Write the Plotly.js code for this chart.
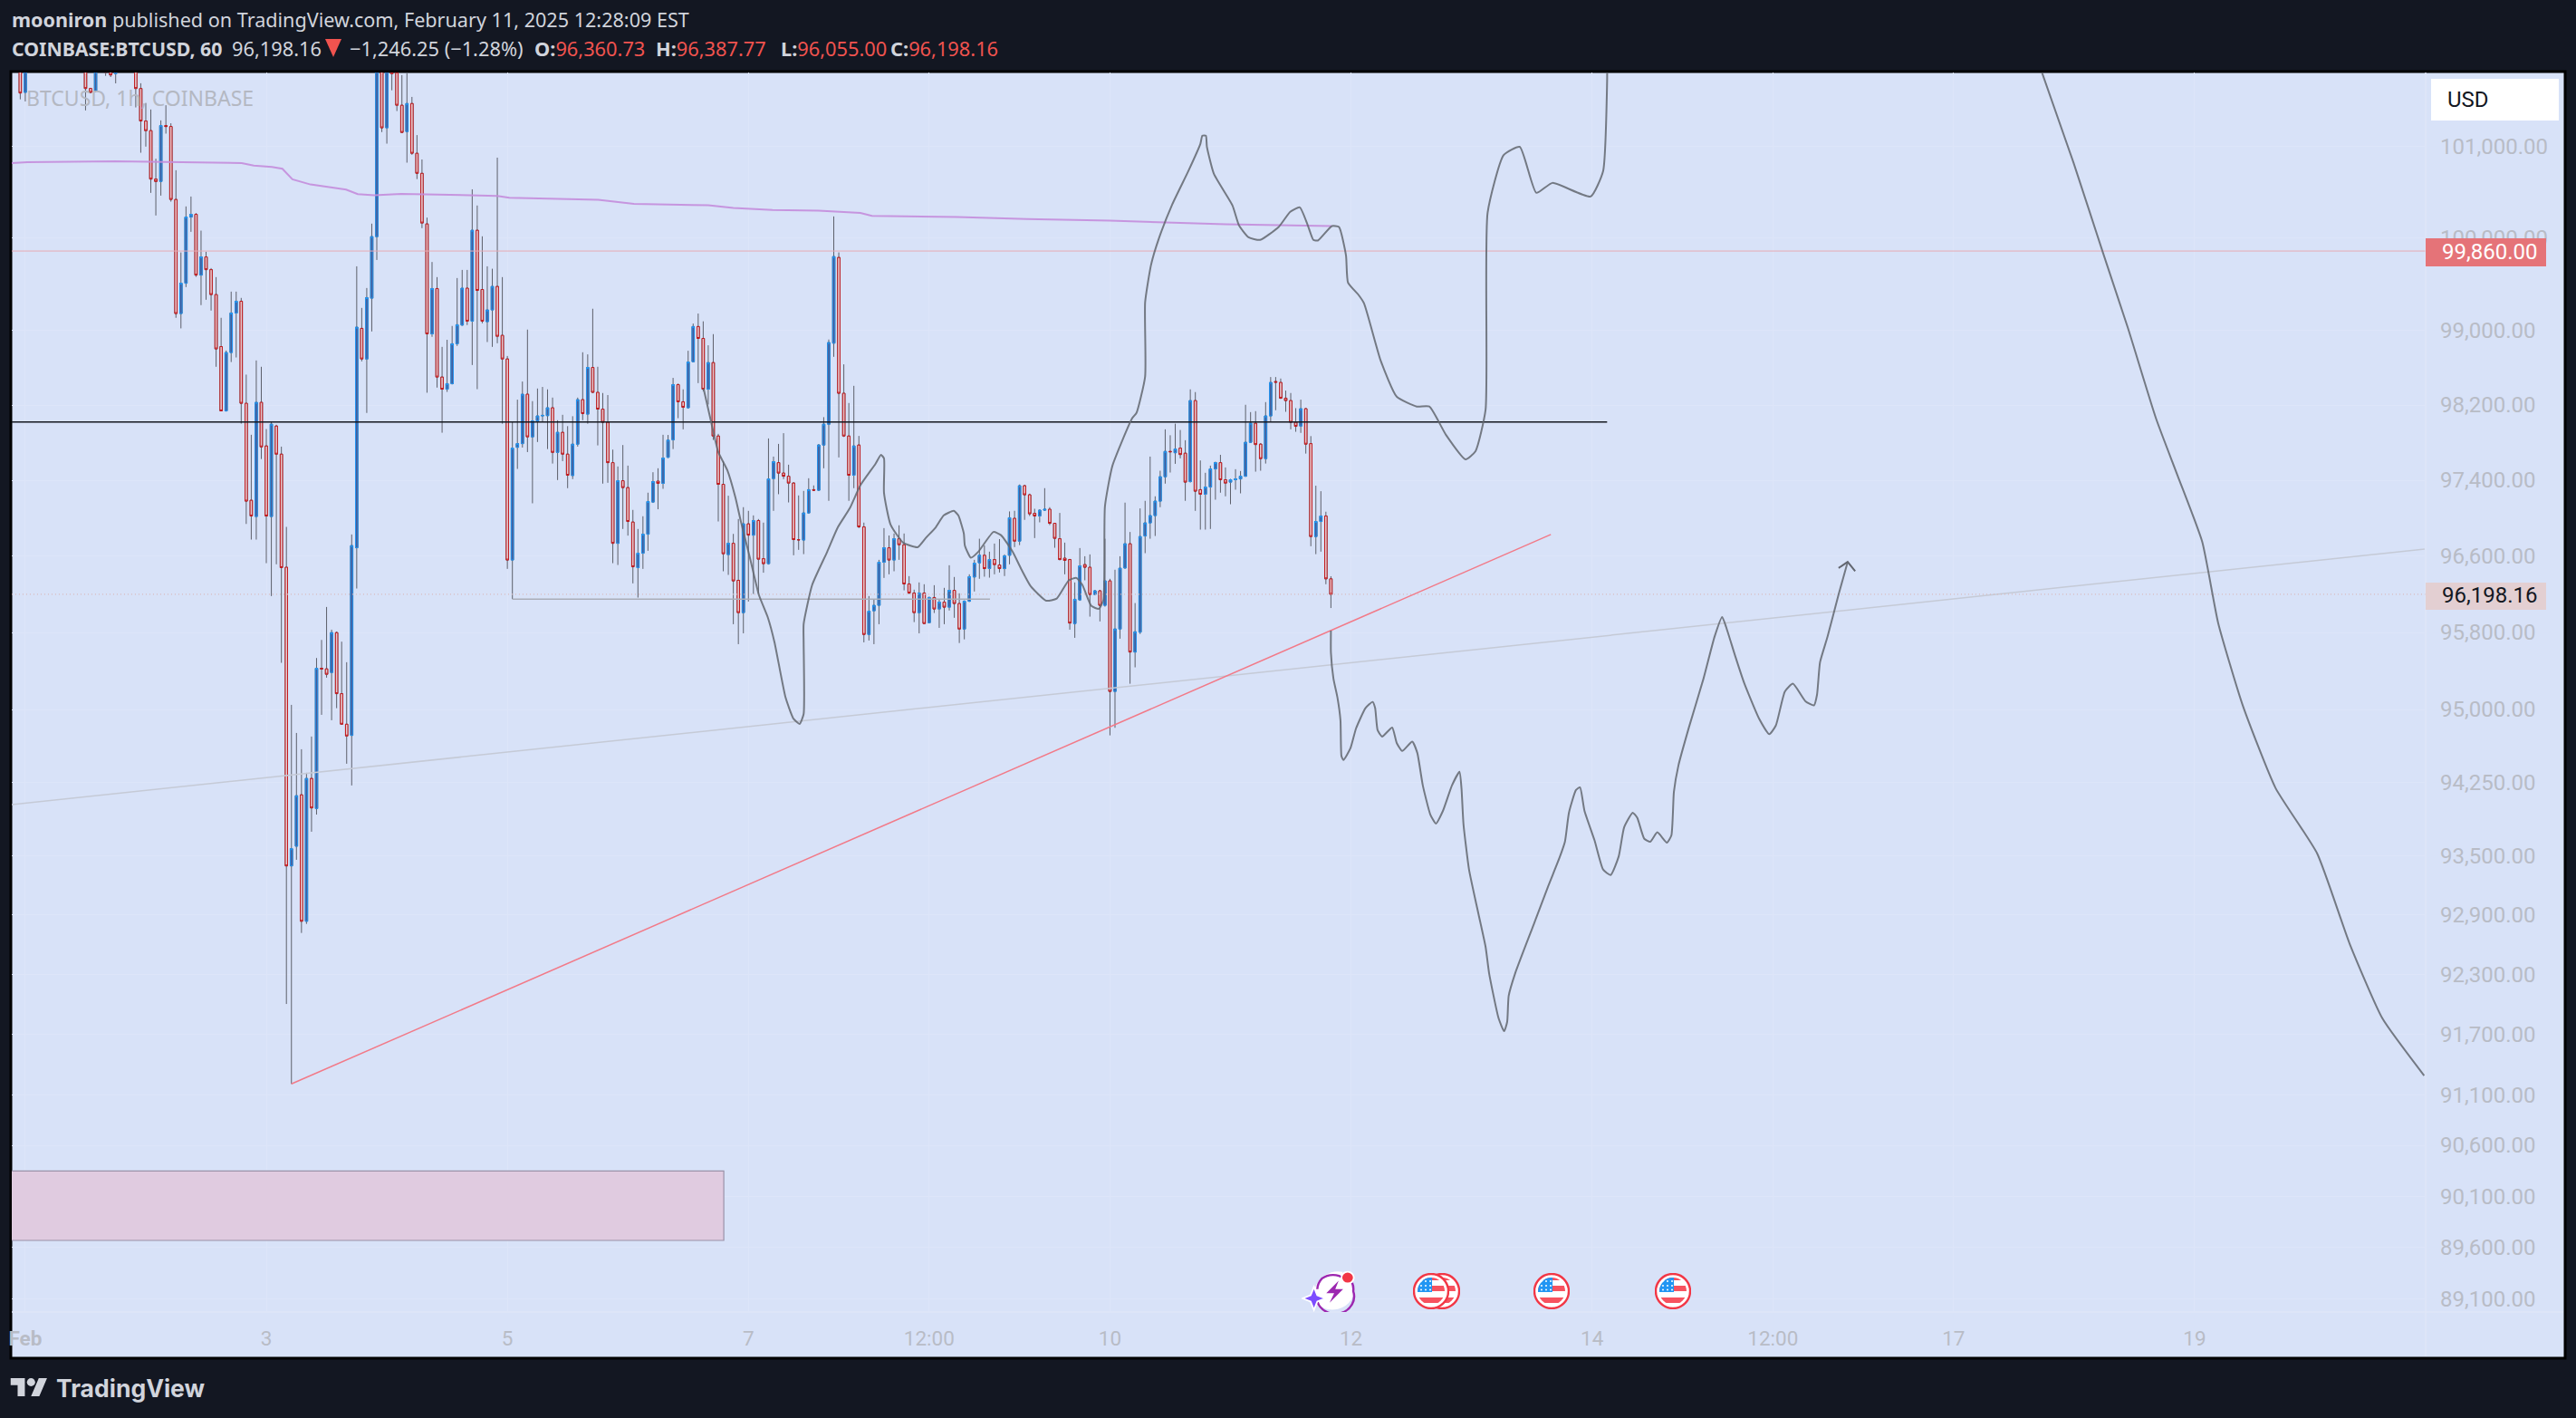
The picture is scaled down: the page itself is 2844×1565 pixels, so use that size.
<!DOCTYPE html>
<html><head><meta charset="utf-8">
<script src="https://cdn.plot.ly/plotly-3.0.1.min.js"></script>
<style>html,body{margin:0;padding:0;background:#131722;overflow:hidden}#c{width:2844px;height:1565px}</style>
</head><body><div id="c"></div>
<script>
// Hourly candles, first one 49 h before Feb 3 00:00
const firstHour=-49;
const opens=[
102400,101599,102350,102500,102400,102300,102450,102650,102500,102350,
102250,102400,102150,102100,101642,101616,102000,102100,101950,101806,
101950,102050,102000,101950,101642,101283,101177,100645,100619,101233,
101223,100422,99183,99511,100230,100260,99599,99796,99658,99388,
98827,98138,98763,99189,99316,98219,97188,97016,98229,97764,
97016,97976,97677,96482,93397,93597,94122,92836,94290,93982,
95427,95421,95384,95798,95164,94848,94733,96687,99023,98694,
99349,100017,102150,101208,102200,101816,101457,101167,101476,100928,
100708,100155,98964,99453,98500,98370,98429,98857,99059,99457,
99101,100086,99443,99095,99222,99476,98948,98694,96558,97750,
97789,98316,97861,98031,98084,98087,98171,97696,97909,97677,
97450,97783,98258,98103,98603,98336,98157,98016,97587,96734,
97395,97322,96958,96478,96630,96830,97169,97390,97367,97644,
97830,98419,98235,98171,98665,99043,98915,98370,98655,97870,
97357,96615,96734,96345,96007,96939,96820,96974,96572,96520,
97418,97587,97476,97443,97370,96773,96768,97054,97300,97294,
97774,97996,98864,99790,98326,97870,97453,97774,96907,95779,
96026,96083,96535,96687,96558,96782,96719,96307,96212,96007,
96212,95902,96165,96045,96117,96064,96240,96102,95836,96126,
96380,96529,96608,96468,96563,96506,96468,96608,96997,96757,
97342,97246,97050,97022,97083,97093,96945,96782,96577,96563,
95893,96140,96510,96482,96197,96235,96083,96339,95187,95836,
96475,96729,95596,95803,96811,96949,97026,97179,97437,97706,
97692,97741,97687,97386,98248,97300,97252,97328,97520,97587,
97405,97380,97405,97414,97443,97803,98006,97783,97629,98084,
98452,98442,98274,98248,98016,97977,98161,97789,96805,96964,97022,96360.73];
const highs=[
102600,102600,102700,102800,102750,102600,102800,102900,102700,102600,
102500,102600,102400,102300,101650,102150,102300,102250,102050,102100,
102200,102250,102200,102100,101700,101482,101410,100868,101290,101457,
101258,100742,99845,100346,100454,100274,100082,99852,99675,99577,
99137,98785,99420,99420,99352,98526,97883,98678,98610,97944,
98022,97990,97757,96907,95048,94758,94590,94348,94721,95534,
95722,96066,95829,95810,95704,95490,96827,99694,99244,99459,
100158,102400,102300,102500,102400,102000,101790,101810,101549,101128,
100860,100224,99741,99577,98824,98900,99049,99567,99655,99655,
100533,100356,100020,99694,99668,100880,99577,98726,98022,98258,
98452,99010,98242,98377,98394,98368,98280,98038,98096,97975,
98081,98280,98766,98743,99235,98610,98329,98307,97725,97546,
97774,97555,97086,96885,97019,97268,97485,97527,97883,97881,
98491,98430,98368,98782,99075,99183,99099,98841,98961,97893,
97603,97236,96833,96990,97115,97076,97028,96990,96952,97844,
97651,97786,97900,97565,97380,97239,97287,97421,97345,97785,
98071,98903,100237,99845,98636,98222,98406,97871,96952,96180,
96143,96560,96894,96816,96837,96924,96837,96389,96247,96323,
96304,96175,96294,96143,96266,96503,96380,96209,96135,96408,
96560,96782,96712,96646,96731,96778,96617,97070,97077,97355,
97352,97258,97098,97092,97316,97115,96950,97054,96741,96570,
96323,96684,96598,96617,96245,96245,96782,96361,96456,96598,
97163,96853,96107,97102,97182,97651,97230,97501,97941,97878,
98001,97934,97825,98368,98339,97610,97479,97555,97597,97670,
97536,97415,97517,97498,98203,98125,98135,97795,98232,98500,
98500,98484,98355,98329,98167,98258,98170,97869,97342,97284,97067,96387.77];
const lows=[
101522,101499,102100,102300,102200,102100,102300,102400,102300,102100,
102000,102100,101820,101400,101589,101599,101900,101782,101769,101699,
101880,101900,101870,101433,100934,101001,100494,100247,100464,101144,
100398,99137,99023,99469,100069,99580,99274,99332,99215,98610,
98135,98130,98661,98710,98002,96938,96773,96773,97625,96525,
96180,96513,95484,92004,91207,93459,92718,92809,93745,93920,
94945,95330,94889,95014,94842,94441,94218,96259,98668,98116,
98990,99763,101161,101034,101622,101393,101150,100825,100911,100645,
100109,98332,98932,98387,97905,98341,98420,98834,99050,99059,
98629,98370,99078,98876,98824,98863,98001,96465,96149,97520,
97747,97699,97156,97806,98022,97731,97577,97402,97603,97316,
97412,97757,98038,98001,98330,97770,97364,97373,96525,96506,
96885,96815,96313,96164,96465,96655,97160,97093,97309,97635,
97731,98060,97941,98165,98660,98435,98348,98206,97828,96964,
96440,96402,95886,95678,95791,96123,96202,96202,96425,96510,
97076,97252,97412,97165,96608,96665,96620,97045,97290,97285,
97527,97182,98717,97642,97860,97182,97316,96894,95697,95716,
95678,95886,96370,96408,96440,96560,96240,96200,95908,95791,
95885,95895,96003,95848,95886,96029,95953,95690,95728,96118,
96228,96361,96383,96373,96408,96427,96390,96513,96694,96715,
96981,97022,96789,96955,97075,96926,96687,96555,96408,95829,
95744,96130,96345,95965,96190,95915,96069,94733,94811,95735,
96465,95267,95437,95784,96630,96782,96811,97115,97364,97482,
97574,97632,97182,97375,97076,96878,96878,96885,97194,97268,
97230,97146,97300,97261,97435,97795,97491,97501,97577,98022,
98145,98265,98128,97941,97915,97903,97683,96703,96620,96646,96304,96055];
const closes=[
101592,102350,102500,102400,102300,102450,102650,102500,102350,102250,
102400,102150,102000,101642,101599,102000,102100,101822,101792,101950,
102050,102000,101950,101642,101283,101177,100645,100619,101233,101223,
100422,99183,99511,100230,100260,99599,99796,99658,99388,98802,
98138,98763,99189,99316,98219,97179,97022,98229,97754,97022,
97996,97677,96478,93397,93572,94113,92836,94290,93988,95427,
95421,95365,95798,95164,94848,94727,96710,99036,98694,99355,
100017,102150,101208,102300,101806,101457,101157,101476,100928,100708,
100165,98964,99453,98500,98370,98429,98857,99062,99457,99101,
100086,99433,99101,99222,99476,98938,98694,96558,97741,97789,
98316,97861,98031,98084,98090,98171,97696,97909,97677,97453,
97783,98258,98109,98603,98336,98157,98016,97587,96734,97395,
97322,96964,96487,96630,96830,97175,97386,97367,97635,97826,
98419,98235,98177,98661,99043,98915,98370,98655,97870,97357,
96624,96734,96339,96007,96939,96820,96974,96567,96520,97414,
97597,97476,97443,97370,96773,96770,97054,97300,97294,97774,
97996,98871,99800,98326,97870,97453,97764,96907,95779,96022,
96083,96535,96687,96558,96782,96719,96307,96212,96007,96212,
95893,96165,96045,96117,96064,96240,96102,95836,96126,96383,
96525,96608,96468,96563,96510,96468,96601,97003,96757,97342,
97246,97045,97022,97083,97093,96945,96786,96563,96554,95898,
96146,96497,96482,96197,96235,96083,96339,95187,95836,96472,
96729,95596,95807,96805,96949,97026,97179,97437,97706,97702,
97731,97673,97380,98248,97284,97252,97328,97520,97587,97405,
97370,97405,97414,97443,97803,98006,97779,97629,98084,98442,
98445,98274,98248,98016,97973,98161,97783,96805,96964,97022,96360.73,96198.16];

// 200-period moving average
const maHours=[-50.7,-47.6,-30.1,-15.2,-4.9,-2.5,1.1,3.2,5.2,8.8,15.9,18.2,21.5,26.9,33,39,46,48.4,66.1,73.2,88,93,100.8,110,118.3,120.6,137.6,151.5,168,179.1,191,212.1];
const maPrices=[100821,100831,100841,100831,100821,100794,100778,100758,100642,100586,100530,100481,100467,100484,100477,100471,100461,100441,100418,100375,100358,100329,100306,100299,100274,100244,100230,100208,100191,100171,100152,100132];

// Hand-drawn projection lines
const brushAHours=[87.07,88.57,90,91.8,93.4,94.5,96.3,98.1,99.9,101.2,103.4,105,106.2,107,107,107,108.7,111.7,113.8,116.2,118.3,121.3,122.4,123,123,124.3,126.8,129.7,131.3,133.3,134.9,136.9,137.8,138.9,139.1,140.3,141.8,144.8,146.3,148.6,150.4,152.2,155.3,157.4,159.8,161.3,162.5,164.3,165.8,166.7,167,168.5,172.4,173.3,175,175,176.2,177.7,180.4,183.6,186,186.4,187.1,187.3,188.7,192.4,193.7,195.6,197.9,201.6,203.9,205.8,207.4,208.5,209.4,212.2,213.6,215,215.4,217.5,218.6,221.9,225.1,229.1,231.6,234.9,238.8,240.8,242.8,243.2,246.4,249.6,252.9,256.1,263.7,266.2,267,267];
const brushAPrices=[98377,98022,97699,97507,97220,96964,96582,96190,95952,95697,95124,94903,94851,94954,95697,95886,96297,96646,96902,97105,97347,97574,97670,97632,97268,96933,96741,96693,96789,96902,97028,97076,97028,96837,96712,96582,96646,96853,96820,96646,96456,96285,96132,96154,96345,96370,96297,96076,96047,96142,97124,97555,98058,98119,98506,99303,99714,99990,100368,100732,101031,101121,101121,101001,100702,100356,100139,100010,99981,100122,100287,100336,100139,99981,99974,100132,100122,99813,99518,99384,99293,98678,98290,98184,98184,97883,97622,97709,98150,100277,100909,100999,100494,100603,100454,100731,101720,102000];
const brushBHours=[212,212,212.5,213.3,213.9,214.1,214.5,215.9,217,218.9,220.3,220.8,221.3,222.2,224.2,225.1,226.2,228.2,229.2,230.3,231.8,232.9,234.3,236.1,237.6,238,238.4,239.5,241,242.8,243.5,245.4,246.5,247.1,247.4,248.7,252.4,255.3,257.5,258.6,259.4,260.8,261.6,262.5,264.5,266.2,267.7,269.3,270.4,272.1,273,274.4,275.6,277,278.9,279.8,280.3,281.2,283.3,286.2,288.4,289.9,290.7,292.5,294.3,297.3,299.3,300.6,302.4,304,306.5,308.2,308.8,309.4,310.9,313.1,314.9];
const brushBPrices=[95819,95590,95321,95124,94889,94519,94479,94602,94804,95016,95079,95016,94786,94721,94814,94655,94572,94669,94553,94218,93920,93828,93957,94218,94358,94190,93821,93360,92998,92578,92313,91859,91732,91826,92085,92313,92806,93195,93477,93643,93939,94171,94199,93957,93656,93360,93304,93492,93791,93939,93887,93673,93643,93739,93634,93708,94153,94423,94817,95321,95757,95962,95857,95556,95274,94902,94745,94834,95186,95267,95086,95043,95153,95490,95757,96198,96538];
const arrowHours=[313.1,314.9,316.4];
const arrowPrices=[96474,96538,96440];
const brushCHours=[352.9,359.9,365.8,370.7,376.3,380.6,385.5,388.7,393.6,400.1,408.4,414.9,421.4,429.7];
const brushCPrices=[101930,100821,99832,99029,98058,97450,96751,95895,95039,94193,93523,92605,91859,91290];

// Level and trend lines: [start hour, end hour], [start price, end price]
const supportHours=[-50.7,267], supportPrices=[98020,98020];
const resistHours=[-50.7,429.9], resistPrices=[99860,99860];
const lastHours=[-50.7,429.9], lastPrices=[96198.16,96198.16];
const longTrendHours=[-50.7,429.8], longTrendPrices=[94022,96674];
const redTrendHours=[5,255.8], redTrendPrices=[91207,96827];
const flatHours=[49,144.1], flatPrices=[96149,96149];
const zoneHours=[-51,91.1,91.1,-51,-51], zonePrices=[90347,90347,89667,89667,90347];

const yTicks=[101000,100000,99000,98200,97400,96600,95800,95000,94250,93500,92900,92300,91700,91100,90600,90100,89600,89100];
const yTickText=['101,000.00','100,000.00','99,000.00','98,200.00','97,400.00','96,600.00','95,800.00','95,000.00','94,250.00','93,500.00','92,900.00','92,300.00','91,700.00','91,100.00','90,600.00','90,100.00','89,600.00','89,100.00'];
const xTickDates=['2025-02-01','2025-02-03','2025-02-05','2025-02-07','2025-02-08 12:00','2025-02-10','2025-02-12','2025-02-14','2025-02-15 12:00','2025-02-17','2025-02-19'];
const xTickText=['<b>Feb</b>','3','5','7','12:00','10','12','14','12:00','17','19'];

const T0=Date.UTC(2025,1,3);
const tm=h=>T0+h*3600000;
const times=opens.map((_,i)=>tm(firstHour+i));
const L=13,R=2678,TOP=80,BOT=1448;
const fx=x=>(x-L)/(R-L), fy=y=>(BOT-y)/(BOT-TOP);
const line=(hs,ps,color,width,extra)=>({type:'scatter',mode:'lines',x:hs.map(tm),y:ps,hoverinfo:'skip',showlegend:false,line:Object.assign({color:color,width:width},extra||{})});
const brush=(hs,ps)=>{const t=line(hs,ps,'#62666f',2,{shape:'spline',smoothing:0.5});t.opacity=0.85;return t;};

const zone=line(zoneHours,zonePrices,'#9a92a8',1.2);zone.fill='toself';zone.fillcolor='#e0cbe0';

const wickColor='#5d606b';
const wicks={type:'candlestick',x:times,open:opens,high:highs,low:lows,close:closes,hoverinfo:'skip',showlegend:false,
  increasing:{line:{color:wickColor,width:1},fillcolor:wickColor},decreasing:{line:{color:wickColor,width:1},fillcolor:wickColor}};
const bodies={type:'candlestick',x:times,open:opens,close:closes,
  high:opens.map((o,i)=>Math.max(o,closes[i])),low:opens.map((o,i)=>Math.min(o,closes[i])),hoverinfo:'skip',showlegend:false,
  increasing:{line:{color:'#2196f3',width:1},fillcolor:'#4a5c96'},decreasing:{line:{color:'#c4181c',width:1},fillcolor:'#e2ccd2'}};

const ma=line(maHours,maPrices,'#c48ddb',2);ma.opacity=0.9;
const traces=[
  zone,
  line(longTrendHours,longTrendPrices,'#c5cad6',1.5),
  line(resistHours,resistPrices,'#e8aab4',1),
  line(flatHours,flatPrices,'#a9adb8',1.5),
  wicks,bodies,
  line(lastHours,lastPrices,'#d9b9bc',1.2,{dash:'1px 3px'}),
  ma,
  line(supportHours,supportPrices,'#15181f',1.6),
  line(redTrendHours,redTrendPrices,'#f27a88',1.5),
  brush(brushAHours,brushAPrices),
  brush(brushBHours,brushBPrices),
  line(arrowHours,arrowPrices,'#62666f',2),
  brush(brushCHours,brushCPrices)
];

const rectShape=(x0,y0,x1,y1,fill,ln,layer)=>({type:'rect',xref:'paper',yref:'paper',x0:fx(x0),x1:fx(x1),y0:fy(y0),y1:fy(y1),fillcolor:fill,line:ln||{width:0},layer:layer||'below'});
const seg=(x0,y0,x1,y1,c,w)=>({type:'line',xref:'paper',yref:'paper',x0:fx(x0),x1:fx(x1),y0:fy(y0),y1:fy(y1),line:{color:c,width:w},layer:'below'});
const shapes=[
  rectShape(12,79,2832,1499,'#d8e2f8',{color:'#000000',width:3}),
  seg(2678,80,2678,1497,'#dfe6f9',1.5),
  seg(13,1448,2830,1448,'#dfe6f9',1.5),
  rectShape(2678,263,2811,294,'#e57378',null,'above'),
  rectShape(2678,643,2811,673,'#e3cfd2',null,'above'),
  rectShape(2684,87,2825,133,'#ffffff',null,'above'),
  {type:'path',xref:'paper',yref:'paper',layer:'above',fillcolor:'#f0534f',line:{width:0},
   path:'M '+fx(359)+' '+fy(43)+' L '+fx(377)+' '+fy(43)+' L '+fx(368)+' '+fy(63)+' Z'}
];

const svgUri=s=>'data:image/svg+xml;charset=utf-8,'+encodeURIComponent(s);
const flag='<svg xmlns="http://www.w3.org/2000/svg" width="80" height="80" viewBox="0 0 40 40"><defs><clipPath id="c"><circle cx="20" cy="20" r="15"/></clipPath></defs><circle cx="20" cy="20" r="19" fill="#fff" stroke="#f23645" stroke-width="2.4"/><g clip-path="url(#c)"><rect x="0" y="0" width="40" height="40" fill="#fff"/><rect x="0" y="14" width="40" height="6" fill="#f7525f"/><rect x="0" y="27" width="40" height="6" fill="#f7525f"/><rect x="0" y="3" width="40" height="5" fill="#f7525f"/><rect x="0" y="0" width="21" height="21" fill="#2196f3"/><g fill="#fff"><circle cx="9" cy="9" r="1"/><circle cx="14" cy="9" r="1"/><circle cx="19" cy="9" r="1"/><circle cx="9" cy="14" r="1"/><circle cx="14" cy="14" r="1"/><circle cx="19" cy="14" r="1"/><circle cx="9" cy="18.5" r="1"/><circle cx="14" cy="18.5" r="1"/><circle cx="19" cy="18.5" r="1"/></g></g></svg>';
const bolt='<svg xmlns="http://www.w3.org/2000/svg" width="100" height="80" viewBox="0 0 50 40"><path d="M36 4 A16 16 0 1 1 19 33 A16 16 0 0 1 20 9 A16 16 0 0 1 36 4" fill="#fff" stroke="#fff" stroke-width="5"/><path d="M38 8 A16 16 0 0 0 18 8 A16 16 0 0 0 14 18 M14 30 A16 16 0 0 0 46 20 A16 16 0 0 0 45 12" fill="none" stroke="#9c27b0" stroke-width="2"/><path d="M33 10 L22 22 L29 22 L25 31 L37 18 L30 18 Z" fill="#9c27b0"/><path d="M11 16 L14 24 L21 27 L14 30 L11 38 L8 30 L1 27 L8 24 Z" fill="#7c4dff" stroke="#fff" stroke-width="1.5"/><circle cx="41" cy="7" r="5.5" fill="#f23645" stroke="#fff" stroke-width="1.5"/></svg>';
const logo='<svg xmlns="http://www.w3.org/2000/svg" width="72" height="40" viewBox="0 4 36 18"><path fill="#d1d4dc" d="M14 22H7V11H0V4h14v18zM28 22h-8l7.5-18h8L28 22z"/><circle fill="#d1d4dc" cx="20" cy="8" r="4"/></svg>';
const img=(src,cx,cy,w,h)=>({source:svgUri(src),xref:'paper',yref:'paper',x:fx(cx-w/2),y:fy(cy-h/2),sizex:w/(R-L),sizey:h/(BOT-TOP),xanchor:'left',yanchor:'top',sizing:'stretch',layer:'above'});
const images=[img(bolt,1468,1425,62,46),img(flag,1592,1425,40,40),img(flag,1580,1425,40,40),img(flag,1713,1425,40,40),img(flag,1847,1425,40,40),img(logo,32,1531,41,22)];

const ann=(text,x,y,size,color,fam,anchor)=>({text:text,xref:'paper',yref:'paper',x:fx(x),y:fy(y),xanchor:anchor||'left',yanchor:'middle',showarrow:false,font:{family:fam||'Roboto, sans-serif',size:size,color:color||'#d1d4dc'}});
const red=s=>'<span style="color:#f0534f">'+s+'</span>';
const NS='Noto Sans, sans-serif';
const annotations=[
  ann('<b>mooniron</b> published on TradingView.com, February 11, 2025 12:28:09 EST',11,22,21.6,'#d1d4dc',NS),
  ann('<b>COINBASE:BTCUSD, 60</b>',11,53,21.3,'#d1d4dc',NS),
  ann('96,198.16',254,53,21.8,'#d1d4dc',NS),
  ann('−1,246.25 (−1.28%)',384,53,21.8,'#d1d4dc',NS),
  ann('<b>O:</b>'+red('96,360.73'),588,53,21.8,'#d1d4dc',NS),
  ann('<b>H:</b>'+red('96,387.77'),722,53,21.8,'#d1d4dc',NS),
  ann('<b>L:</b>'+red('96,055.00'),860,53,21.8,'#d1d4dc',NS),
  ann('<b>C:</b>'+red('96,198.16'),981,53,21.8,'#d1d4dc',NS),
  ann('BTCUSD, 1h, COINBASE',27,108,23,'#b4b8c2',NS),
  ann('99,860.00',2694,278,24,'#ffffff'),
  ann('96,198.16',2694,657,24,'#131722'),
  ann('USD',2700,110,24,'#131722'),
  ann('<b>TradingView</b>',60,1532,26.5,'#d1d4dc','Inter, sans-serif')
];

const layout={width:2844,height:1565,margin:{l:L,r:2844-R,t:TOP,b:1565-BOT,pad:0},
  paper_bgcolor:'#131722',plot_bgcolor:'#d8e2f8',showlegend:false,boxgap:0.33,boxmode:'overlay',
  xaxis:{type:'date',range:[tm(-50.69),tm(430.0)],rangeslider:{visible:false},tickmode:'array',tickvals:xTickDates,ticktext:xTickText,
    showgrid:true,gridcolor:'#dde5f9',gridwidth:1,zeroline:false,showline:false,ticks:'',ticklabelstandoff:13,
    tickfont:{family:'Roboto, sans-serif',size:22.5,color:'#b8bcc6'},tickangle:0},
  yaxis:{type:'log',range:[4.94925,5.00783],side:'right',tickmode:'array',tickvals:yTicks,ticktext:yTickText,
    showgrid:true,gridcolor:'#dde5f9',gridwidth:1,zeroline:false,showline:false,ticks:'',ticklabelstandoff:15,
    tickfont:{family:'Roboto, sans-serif',size:24,color:'#b8bcc6'}},
  shapes:shapes,images:images,annotations:annotations};
Plotly.newPlot('c',traces,layout,{displayModeBar:false,staticPlot:true});
</script></body></html>
